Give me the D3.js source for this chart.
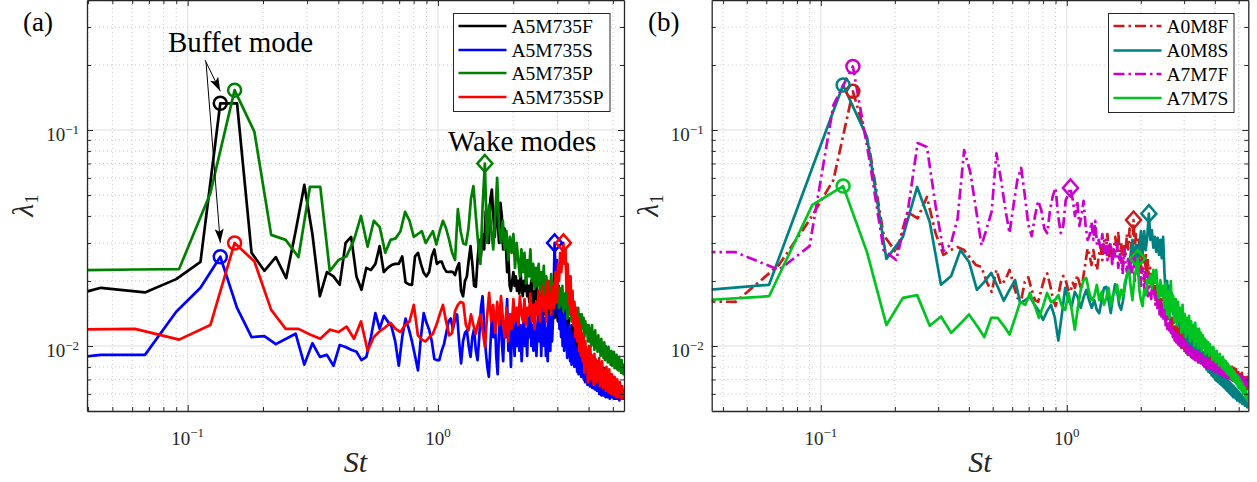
<!DOCTYPE html>
<html>
<head>
<meta charset="utf-8">
<script src="https://cdn.jsdelivr.net/npm/d3@7"></script>
<style>
  body { margin: 0; background: #fff; }
  svg { display: block; }
</style>
</head>
<body>
<svg id="fig" width="1257" height="482" font-family="'Liberation Serif', 'DejaVu Serif', serif"></svg>
<script>
// St bin width of the two sampling families (bin k sits at St = k * dSt)
const dStF = 0.0225;
const dStS = 0.0308;

// lambda_1, in units of 1e-3, for bins k = 1, 2, 3, ...
// panel (a)
const lamA5M735F = [
  15,18.6,17.7,20.4,24.5,133,133,27,22.3,25.8,
  20.6,34,55.7,33,17,22,21,19.2,30,32,
  21,18.2,23,22.5,24,29,22,23,23.7,24,
  24,26,19.7,19.3,19.2,26,27,24,21.8,21,
  22,26,28,24,24.5,24.6,23,22.1,22,22.1,
  22,21.3,23,24.2,18,17,20,21,25,29,
  24,19,18.8,25,31,26,33,28,42,35,
  30,48,53,40,32,45,38,30,46,40,
  28,35,30,22,26,19,18,20,22,19,
  21,18,20,17.5,22,19,17,20,18,21,
  17,19,16,18.5,20,17,15.5,18,16.5,19,
  15,17,16,14.5,17.5,15,16.5,14,17,15.5,
  14,16.5,15,13.5,17,20,15,14,16,13.5,
  15.5,18,14,13,16,12.5,14.5,13,15,12,
  13.5,12,14,11.5,13,12.5,11,13.5,10.5,12,
  11.5,10,12.5,10.5,11,12,9.5,11,10,11.5,
  10.5,8.5,10,8,11,8.8,9.5,7.8,10.2,8.4,
  9.6,7.6,9.8,8,9,7.4,9.5,7.8,8.8,7.2,
  9.2,7.5,8.6,7,9,7.3,8.4,6.9,8.7,7.1,
  8.2,6.8,8.5,7,8,6.6,8.3,6.9,7.8,6.5,
  8.1,6.7,7.7,6.4,7.9,6.6,7.5,6.3,7.8,6.5,
  7.3,6.2,7.6,6.4,7.1,6,7.4,6.3,7,5.9,
  7.2,6.1,6.9,5.9,7,6.2,6.7,5.8,6.9,6,
  6.6,5.8,6.8,6,6.4,5.7,6.6,5.9,6.3,5.8,
  6.5,5.9,6.2,6,6.3
];
const lamA5M735S = [
  8.3,9.1,9.1,14.4,18.6,25.9,15,11,11.1,10.2,
  10.8,11.4,8.2,10.3,8.9,9.1,8.1,10.1,9.9,9.6,
  9.4,8.6,8.9,11,14.2,12,13.8,13,12.3,10.5,
  8.1,11,13.4,12,10.5,9,7.7,11,14.2,12.8,
  11.9,10.5,8.7,8.6,8.6,9.5,10.2,11.5,13,13.4,
  12,13.2,14,10.5,8.3,10.5,11.5,11.8,10,8.9,
  11,12,9.5,8.6,11,15,17,12.5,9.5,8,
  7.2,10,13.5,11,14,9,7.4,12,15.5,10.5,
  8.5,13,11,16.5,9.5,12,8,14,11.5,9,
  13,10,15,9.5,12.5,8.5,11,14,10,12,
  9,13.5,11,15.5,10,12.5,9.5,14,11,9,
  12,15,10.5,13,9,16,11.5,10,13.5,9,
  12,8.5,14,11,9.5,15,10.5,13,19,30,
  22,17,25,14,19,12,16,11,14,10,
  13,9.5,15,10,12,8.8,11.5,9,12.5,8.5,
  11,8.2,10.5,9,11.5,8,10,8.6,9.8,7.6,
  9.6,7.4,9,7.8,9.4,7.2,8.7,7.5,9,7,
  8.6,6.8,8.9,7.2,8.3,6.6,8.5,7,8,6.5,
  8.2,6.7,7.8,6.4,8,6.6,7.6,6.3,7.9,6.5,
  7.4,6.2,7.7,6.4,7.2,6,7.5,6.2,7,5.9,
  7.3,6.1,6.9,5.9,7.1,6,6.8,5.8,7,6.1,
  6.7,5.8,6.9,6,6.5,5.7,6.8,5.9,6.4,5.8,
  6.6,5.9,6.3,5.7,6.5,5.8,6.2,5.7,6.4,5.9,
  6.1,5.7,6.3,5.8,6,5.6,6.2,5.8,5.9,5.7,
  6.1,5.8,6,5.7,5.9
];
const lamA5M735P = [
  22.4,22.6,22.7,51,153,98,32.7,31,25.8,54.5,
  54.5,22.2,25,26,31,40,28.8,38,35.5,27,
  31,31.5,34,41.8,38,32,33,34,30,32,
  34,29.5,34,38,35,31,27,25,43,34,
  29.8,29.5,35,48,55,40,30,24,45,70,
  30,45,35,28,40,60,35,30,38,28,
  34,25,32,27,33,23,30,25,21,28,
  22,27,19.5,25,21,28,20,24,18.5,23,
  19,24,17.5,22,18,23.5,16.5,21,18,20,
  16,21.5,17,19.5,15.5,22,16.5,19,15,18.5,
  15.5,19,14.5,17.5,15,18,13.5,16.5,14,17,
  13,16,12.5,15.5,13.5,14.5,12,15,12.5,14,
  11.5,14,12,13.5,11,13,11.5,12.5,10.5,12.5,
  10.5,12,10,12.5,10.2,11.5,9.6,11.8,9.8,11,
  9.4,11.2,9.5,10.5,9,10.8,9.2,10.2,8.8,10.4,
  8.6,10,8.9,9.7,8.4,9.9,8.5,9.4,8.2,9.5,
  8.1,9.2,8.3,9.4,7.9,9,8,9.1,7.8,8.7,
  7.7,8.9,7.8,8.5,7.5,8.6,7.6,8.2,7.4,7.6
];
const lamA5M735SP = [
  11.9,12,10.7,12.5,30,24.6,14.7,12,12,11.3,
  10.8,11.9,11.6,12.3,10.8,13,9.5,11,11.7,12.2,
  12.8,12,11.6,12.5,13,15.5,11.2,10.7,10.5,11,
  11.4,12.5,14,15.5,13,11.2,11.5,14.5,15.5,16,
  15.8,12.5,11.8,14,12.5,11.4,12.8,14,11.8,9.9,
  13.5,17.6,13,15.5,11.5,16,12.5,17,13.5,11,
  15,10.5,14,12,16.5,13,15,12.5,17,14,
  13,16.5,12.5,15,14,17.5,13,15.5,12,16,
  14,18,13,16,19,14.5,17,13,20,15,
  17.5,14,19,15,18,22,16,24,20,27,
  22,26,30,24,28,18,24,19,15.5,21,
  14,18,12.5,16,11,15,10.5,13.5,9.5,12.5,
  9,11.5,8.5,11,7.5,10.5,8,9.6,6.8,10,
  7.5,9.8,7,9,8.2,6.6,9.2,7.2,8.6,6.8,
  8.4,7,8.8,6.5,8,7.1,8.5,6.4,7.8,6.9,
  7.6,6.2,8,6.6,7.3,6.1,7.8,6.4,7,6,
  7.4,6.3,6.9,5.9,7.2,6.2,6.8,5.8,7,6.1,
  6.6,5.8,6.8,6,6.4,5.7,6.5,5.9,5.8,5.8
];
// panel (b)
const lamA0M8F = [
  16.2,16,23.7,38.3,58.7,151,82.5,32.7,27,41.7,
  39,49,33.4,26.4,27.8,28.7,27.8,25.5,23.7,23.2,
  19.8,17.8,22.5,19.2,20.2,22.5,19.2,16.7,16.3,19.8,
  20.8,18.2,16.3,16,18.2,20.5,21.7,19.2,16.7,15.3,
  17,19.6,21.1,20.2,18.2,17.8,19.6,18.6,21.3,19.6,
  18.2,21.3,24.5,28.3,26.4,23.7,27.8,24.5,22.5,26.4,
  29,25,31,27,33,26,30,24,28,32,
  27,34,25,30,23,29,26,33,28,35,
  30,25,38.3,29,33,24,31,27,22,29,
  24,20,27,21,25,18.5,23,19,21,17,
  20,16,19,15.5,18,14.5,17.5,15,16.5,13.5,
  16,13,15,12.5,14.5,12,14,11.5,13.5,11.5,
  13,11,12.5,10.5,12.5,10.2,12,10,11.8,9.8,
  11.5,9.6,11.2,9.5,11,9.3,10.8,9.1,10.6,9.2,
  10.8,9,10.5,8.8,10.3,9,10.2,8.7,10,8.6,
  9.8,8.4,10,8.6,9.6,8.3,9.7,8.5,9.4,8.2,
  9.5,8.1,9.2,8.3,9.4,8,9,8.2,9.1,7.9,
  8.9,8,9.1,7.8,8.7,7.9,8.9,7.7,8.6,7.8,
  8.8,7.6,8.5,7.7,8.6,7.5,8.4,7.6,8.5,7.4,
  8.3,7.5,8.4,7.3,8.2,7.4,8.3,7.2,8.1,7.3,
  8.2,7.1,8,7.2,8.1,7,7.9,7.1,8,6.9,
  7.8,7,7.9,6.8,7.7,6.9,7.8,6.7,7.6,6.8,
  7.7,6.6,7.5,6.7,7.6,6.5,7.4,6.6,7.5,6.4,
  7.3,6.5,7.4,6.3,7.2,6.4,7.3,6.2,7.1,6.3,7.2,6.3,7.5
];
const lamA0M8S = [
  18,19.2,67,161.5,93,25.3,32,54.5,37.5,19.2,
  21.1,27.8,24.5,18.2,19.8,21.8,18.8,16.2,18.2,20.2,
  15.8,16.3,16.9,15.5,14.5,13.2,14.5,15.5,13.6,10.6,
  14,18.6,16.3,15.3,17.8,16.8,15,16.8,18.2,16.3,
  15,16.3,14.7,14.2,16.3,18.6,18.8,16.3,14.2,16.8,
  19.3,18,15.5,14.7,16.3,19,21.3,21.7,26.4,31,
  23.7,29.3,22.5,28.5,34,26.4,34,27.8,32.3,41,
  31,34.4,28.5,32,27.3,31.7,26.4,31,25.5,32,
  22,17,20,15.5,19,14.5,17.5,14,16,13,
  15,12.5,14.5,11.8,14,11.5,13,11,12.5,10.5,
  12,10.2,11.5,9.8,11.2,9.5,10.8,9.2,10.5,9,
  10.2,8.6,9.8,8.4,9.5,8.2,9.3,8,9,7.8,
  8.8,7.6,8.6,7.5,8.4,7.3,8.3,7.2,8.1,7,
  7.9,6.9,7.8,6.8,7.6,6.7,7.5,6.6,7.4,6.5,
  7.3,6.4,7.2,6.3,7,6.2,6.9,6.1,6.8,6,
  6.7,5.9,6.6,5.8,6.5,5.8,6.4,5.7,6.3,5.6,
  6.2,5.6,6.1,5.5,6,5.5,5.9,5.4,5.8,5.4,
  5.7,5.3,5.6,5.3,5.5,5.2,5.4,5.2
];
const lamA7M7F = [
  27.3,27.2,22.5,29,130.6,197,73,27.8,25,41,
  87,83.5,45,27.5,29.6,39,80.8,64,43,29.3,
  35,42,78,59,43,33.3,45,59,66.7,50,
  36.4,32.3,40,47,42.6,35,33.3,42.6,49.5,54,
  40,33.3,36,47.4,50,53.9,47.4,40,47,36,
  40,47,36,31,32.5,37.5,31,38,29.3,31,
  28,33,27,31,25,29,30,24,28,26,
  30,23,27,25,21.5,28,24,22,26,21,
  25,22,27,20,24,26,21,25,19,23,
  21,18,22,19,17,21,18,16.5,20,17,
  18,15.5,17,14.5,16.5,14,16,13.5,15.5,13,
  14.5,12.5,14,12,13.5,11.8,13,11.5,12.5,11,
  12,10.6,11.8,10.4,11.5,10.2,11.2,10,11,9.8,
  10.8,9.6,10.6,9.4,10.4,9.3,10.2,9.2,10,9.1,
  10,8.9,9.8,8.8,9.7,8.7,9.6,8.6,9.5,8.5,
  9.4,8.4,9.3,8.3,9.2,8.3,9.1,8.2,9,8.1,
  9,8,8.9,8,8.8,7.9,8.7,7.9,8.6,7.8,
  8.6,7.8,8.5,7.7,8.4,7.7,8.4,7.6,8.3,7.6,
  8.3,7.5,8.2,7.5,8.1,7.4,8.1,7.4,8,7.3,
  8,7.3,7.9,7.3,7.9,7.2,7.8,7.2,7.8,7.1,
  7.8,7.1,7.7,7.1,7.7,7,7.6,7,7.6,6.9,
  7.6,6.9,7.5,6.9,7.5,6.8,7.4,6.8,7.4,6.8,
  7.4,6.7,7.3,6.7,7.3,6.7,7.2,6.6,7.2,6.6,
  7.2,6.6,7.1,6.5,7.1,6.5,7.1,6.5,7,6.5,7,6.6,7.2
];
const lamA7M7S = [
  16.2,17,45,55,27.2,12.5,16.7,17.2,12.4,13.7,
  11.5,12.7,14,12.4,11,13.5,13.5,12.4,11.3,13.5,
  16,15.5,17.6,15.5,13.5,15.3,17.6,16,16.3,17.2,
  15.3,14.7,17.6,14.7,11.9,15,18.2,20.2,20.6,17.8,
  16.3,17,19.2,16.3,17.8,15.5,16.7,18.6,15.3,17.2,
  17.8,19.2,16.3,18.2,17,19.8,21.3,22.5,19,16.3,
  20.2,22.5,25.4,18.2,16.3,15.3,18.2,17.2,20.2,19.6,
  21.3,18.6,22.5,19.8,22.5,18.2,16.7,20.2,17,19,
  15,19.5,14,18,13.5,20,14.5,17,13,16.5,
  12.5,16,13,15,11.5,15.5,12,14,11,13.5,
  11.5,13.8,10.5,13,11,12.5,10,12.8,10.5,12,
  9.8,12,10.2,11.5,9.5,11.2,9.8,10.8,9.2,10.6,
  9.4,10.4,9,10.2,9.2,9.8,8.6,9.9,8.8,9.4,
  8.4,9.5,8.5,9.1,8.1,9.2,8.2,8.8,7.9,8.9,
  7.8,8.6,7.7,8.5,7.5,8.3,7.4,8.1,7.3,8,
  7.1,7.9,7,7.7,6.9,7.6,6.8,7.4,6.7,7.3,
  6.5,7.2,6.4,7,6.3,6.8,6.2,6.7,6,6.5,
  6,6.4,5.8,6.2,5.7,6,5.6,5.5
];

const namesA = ["A5M735F", "A5M735S", "A5M735P", "A5M735SP"];
const namesB = ["A0M8F", "A0M8S", "A7M7F", "A7M7S"];
// bin of the marked peaks: circle = buffet mode, diamond = wake mode (0 = none)
const buffetBinA = [6, 6, 5, 5];
const wakeBinA = [0, 130, 50, 103];
const buffetBinB = [6, 4, 6, 4];
const wakeBinB = [83, 70, 46, 63];

const xTickExp = [-1, 0];
const yTickExp = [-2, -1];

// ---------------------------------------------------------------
const svg = d3.select("#fig");
const ink = "#262626";
const serif = "'Liberation Serif', 'DejaVu Serif', serif";
const yDom = [0.005, 0.4];
const plotTop = 0, plotBottom = 411;

svg.append("defs").append("marker")
  .attr("id", "arrowhead")
  .attr("viewBox", "0 -5 14 10")
  .attr("refX", 14).attr("refY", 0)
  .attr("markerWidth", 14).attr("markerHeight", 10)
  .attr("markerUnits", "userSpaceOnUse")
  .attr("orient", "auto")
  .append("path").attr("d", "M0,-4.5L14,0L0,4.5L3,0Z").attr("fill", "#000");

const panels = [
  { tag: "(a)", tagX: 23, left: 87, right: 624, xDom: [0.0396, 5.54],
    names: namesA, lams: [lamA5M735F, lamA5M735S, lamA5M735P, lamA5M735SP],
    steps: [dStF, dStF, dStS, dStS],
    colors: ["#000000", "#0000ff", "#008000", "#ff0000"],
    dashes: [null, null, null, null],
    buffet: buffetBinA, wake: wakeBinA,
    legend: { x: 453.5, y: 13.5, w: 156.5, h: 98, rows: [26, 50, 73, 97] } },
  { tag: "(b)", tagX: 648, left: 711.7, right: 1248.3, xDom: [0.036, 5.47],
    names: namesB, lams: [lamA0M8F, lamA0M8S, lamA7M7F, lamA7M7S],
    steps: [dStF, dStS, dStF, dStS],
    colors: ["#cc1a1a", "#008080", "#cc00cc", "#00c41f"],
    dashes: ["11,4,2.5,4", null, "11,4,2.5,4", null],
    buffet: buffetBinB, wake: wakeBinB,
    legend: { x: 1108.5, y: 13.5, w: 125.5, h: 99, rows: [26, 50.5, 74, 98] } }
];

panels.forEach((p, pi) => {
  const x = d3.scaleLog().domain(p.xDom).range([p.left, p.right]);
  const y = d3.scaleLog().domain(yDom).range([plotBottom, plotTop]);
  const g = svg.append("g").attr("font-family", serif);

  const xMaj = xTickExp.map(e => 10 ** e);
  const yMaj = yTickExp.map(e => 10 ** e);
  const xMin = [], yMin = [];
  [-2, -1, 0].forEach(e => d3.range(2, 10).forEach(m => {
    const v = m * 10 ** e;
    if (v > p.xDom[0] * 1.001 && v < p.xDom[1] * 0.999) xMin.push(v);
  }));
  [-3, -2, -1].forEach(e => d3.range(2, 10).forEach(m => {
    const v = m * 10 ** e;
    if (v > yDom[0] * 1.001 && v < yDom[1] * 0.999) yMin.push(v);
  }));

  // grid: dotted minor, solid light major
  const grid = g.append("g");
  grid.selectAll(".gxm").data(xMin).join("line")
    .attr("x1", d => x(d)).attr("x2", d => x(d)).attr("y1", plotTop).attr("y2", plotBottom)
    .attr("stroke", "#c6c6c6").attr("stroke-dasharray", "1,3");
  grid.selectAll(".gym").data(yMin).join("line")
    .attr("y1", d => y(d)).attr("y2", d => y(d)).attr("x1", p.left).attr("x2", p.right)
    .attr("stroke", "#c6c6c6").attr("stroke-dasharray", "1,3");
  grid.selectAll(".gxM").data(xMaj).join("line")
    .attr("x1", d => x(d)).attr("x2", d => x(d)).attr("y1", plotTop).attr("y2", plotBottom)
    .attr("stroke", "#dedede");
  grid.selectAll(".gyM").data(yMaj).join("line")
    .attr("y1", d => y(d)).attr("y2", d => y(d)).attr("x1", p.left).attr("x2", p.right)
    .attr("stroke", "#dedede");

  // data
  const clipId = "clip" + pi;
  g.append("clipPath").attr("id", clipId).append("rect")
    .attr("x", p.left).attr("y", plotTop).attr("width", p.right - p.left).attr("height", plotBottom - plotTop);
  const series = p.lams.map((arr, i) => arr.map((v, k) => ({ st: (k + 1) * p.steps[i], lam: v / 1000 })));
  const line = d3.line().x(d => x(d.st)).y(d => y(d.lam));
  const plot = g.append("g").attr("clip-path", `url(#${clipId})`);
  series.forEach((s, i) => {
    plot.append("path").datum(s).attr("d", line)
      .attr("fill", "none").attr("stroke", p.colors[i]).attr("stroke-width", 2.7)
      .attr("stroke-linejoin", "round").attr("stroke-dasharray", p.dashes[i]);
  });
  series.forEach((s, i) => {
    const b = s[p.buffet[i] - 1];
    g.append("circle").attr("cx", x(b.st)).attr("cy", y(b.lam)).attr("r", 6.5)
      .attr("fill", "none").attr("stroke", p.colors[i]).attr("stroke-width", 2.5);
    if (p.wake[i]) {
      const w = s[p.wake[i] - 1];
      g.append("path").attr("transform", `translate(${x(w.st)},${y(w.lam)})`)
        .attr("d", "M0,-8.5L7.5,0L0,8.5L-7.5,0Z")
        .attr("fill", "none").attr("stroke", p.colors[i]).attr("stroke-width", 2.5);
    }
  });

  // axes box with inward ticks
  const sides = [
    [d3.axisBottom(x), `translate(0,${plotBottom})`, xMaj, xMin],
    [d3.axisTop(x), `translate(0,${plotTop})`, xMaj, xMin],
    [d3.axisLeft(y), `translate(${p.left},0)`, yMaj, yMin],
    [d3.axisRight(y), `translate(${p.right},0)`, yMaj, yMin]
  ];
  sides.forEach(([ax, tr, maj, min]) => {
    const a1 = g.append("g").attr("transform", tr).attr("color", ink)
      .call(ax.tickValues(maj).tickSizeInner(-6).tickSizeOuter(0).tickFormat(""));
    a1.select(".domain").attr("stroke-width", 1.3);
    const a2 = g.append("g").attr("transform", tr).attr("color", ink)
      .call(ax.tickValues(min).tickSizeInner(-4).tickSizeOuter(0).tickFormat(""));
    a2.select(".domain").remove();
  });

  // tick labels 10^n
  const supText = e => (e < 0 ? "\u2212" : "") + Math.abs(e);
  xTickExp.forEach(e => {
    const t = g.append("text").attr("x", x(10 ** e)).attr("y", 445)
      .attr("text-anchor", "middle").attr("fill", ink).attr("font-size", 19);
    t.append("tspan").text("10");
    t.append("tspan").attr("dy", -8).attr("font-size", 13).text(supText(e));
  });
  yTickExp.forEach(e => {
    const t = g.append("text").attr("x", p.left - 8).attr("y", y(10 ** e) + 11)
      .attr("text-anchor", "end").attr("fill", ink).attr("font-size", 19);
    t.append("tspan").text("10");
    t.append("tspan").attr("dy", -7).attr("font-size", 13).text(supText(e));
  });

  // axis titles
  g.append("text").attr("x", (p.left + p.right) / 2).attr("y", 472)
    .attr("text-anchor", "middle").attr("font-style", "italic").attr("font-size", 30)
    .attr("fill", ink).text("St");
  const yl = g.append("text").attr("transform", `translate(${p.left - 54},${(plotTop + plotBottom) / 2}) rotate(-90)`)
    .attr("text-anchor", "middle").attr("font-size", 30).attr("fill", ink);
  yl.append("tspan").attr("font-style", "italic").text("\u03bb");
  yl.append("tspan").attr("font-size", 19).attr("dy", 5).text("1");

  g.append("text").attr("x", p.tagX).attr("y", 31).attr("font-size", 27).attr("fill", "#000").text(p.tag);

  // legend
  const L = p.legend;
  const lg = g.append("g");
  lg.append("rect").attr("x", L.x).attr("y", L.y).attr("width", L.w).attr("height", L.h)
    .attr("fill", "#fff").attr("stroke", ink).attr("stroke-width", 1);
  p.names.forEach((n, i) => {
    lg.append("line").attr("x1", L.x + 5).attr("x2", L.x + 53).attr("y1", L.rows[i]).attr("y2", L.rows[i])
      .attr("stroke", p.colors[i]).attr("stroke-width", 2.7).attr("stroke-dasharray", p.dashes[i]);
    lg.append("text").attr("x", L.x + 58).attr("y", L.rows[i] + 6.5)
      .attr("font-size", 19.5).attr("fill", "#000").text(n);
  });

  // annotations (panel a)
  if (pi === 0) {
    g.append("text").attr("x", 168).attr("y", 52).attr("font-size", 29).attr("fill", "#000").text("Buffet mode");
    g.append("text").attr("x", 448).attr("y", 151).attr("font-size", 29).attr("fill", "#000").text("Wake modes");
    const bk = series[0][p.buffet[0] - 1], bl = series[1][p.buffet[1] - 1];
    [[205, 60, x(bk.st), y(bk.lam) - 12], [206, 62, x(bl.st), y(bl.lam) - 14]].forEach(([x1, y1, x2, y2]) => {
      g.append("line").attr("x1", x1).attr("y1", y1).attr("x2", x2).attr("y2", y2)
        .attr("stroke", "#000").attr("stroke-width", 1).attr("marker-end", "url(#arrowhead)");
    });
  }
});
</script>
</body>
</html>
